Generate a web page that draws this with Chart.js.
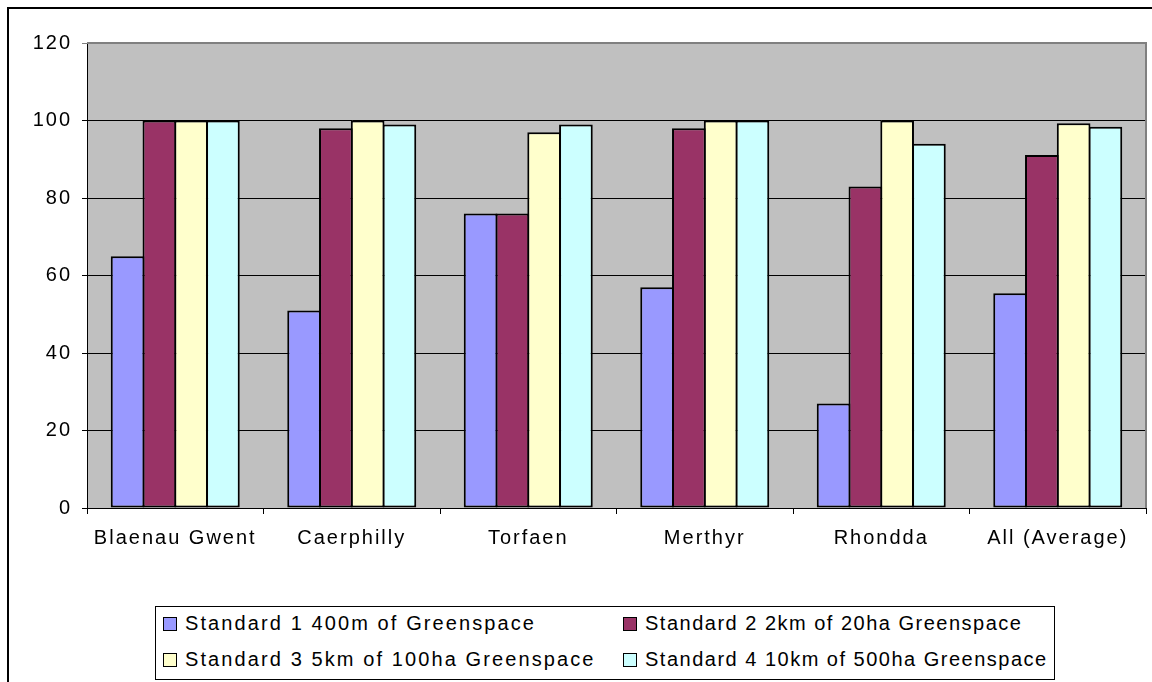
<!DOCTYPE html>
<html>
<head>
<meta charset="utf-8">
<script src="https://cdn.jsdelivr.net/npm/chart.js@4.4.1/dist/chart.umd.min.js"></script>
<style>
  html, body { margin: 0; padding: 0; background: #fff; overflow: hidden; }
  body { width: 1152px; height: 682px; position: relative; font-family: 'Liberation Sans', Arial, sans-serif; }
  #frame { position: absolute; left: 7px; top: 7px; width: 1200px; height: 700px; border-left: 2px solid #000; border-top: 2px solid #000; }
  #chartCanvas { position: absolute; left: 0; top: 0; }
  #legend { position: absolute; left: 155px; top: 606px; width: 898px; height: 72px; border: 1px solid #000; background: #fff; }
  .item { position: absolute; height: 24px; line-height: 24px; font-size: 20px; letter-spacing: 2.1px; color: #000; white-space: nowrap; }
  .item.col2 { letter-spacing: 1.5px; }
  .swatch { display: inline-block; width: 12px; height: 12px; border: 1px solid #000; margin-right: 8px; vertical-align: -1px; }
</style>
</head>
<body>
<div id="frame"></div>
<canvas id="chartCanvas" width="1152" height="600"></canvas>
<div id="legend"></div>
<script>
const categories = ['Blaenau Gwent', 'Caerphilly', 'Torfaen', 'Merthyr', 'Rhondda', 'All (Average)'];
const seriesNames = [
  'Standard 1 400m of Greenspace',
  'Standard 2 2km of 20ha Greenspace',
  'Standard 3 5km of 100ha Greenspace',
  'Standard 4 10km of 500ha Greenspace'
];
const standard1 = [65, 51, 76, 57, 27, 55.4];
const standard2 = [100, 98, 76, 98, 83, 91.1];
const standard3 = [100, 100, 97, 100, 100, 99.3];
const standard4 = [100, 99, 99, 100, 94, 98.4];
const seriesColors = ['#9999FF', '#993366', '#FFFFCC', '#CCFFFF'];
const yMin = 0, yMax = 120, yStep = 20;

const allSeries = [standard1, standard2, standard3, standard4];
const spacing = '2px';

const plotBackground = {
  id: 'plotBackground',
  beforeUpdate: (chart) => { chart.ctx.letterSpacing = spacing; },
  beforeDraw: (chart) => {
    const {ctx, chartArea} = chart;
    ctx.letterSpacing = spacing;
    ctx.save();
    ctx.fillStyle = '#C0C0C0';
    ctx.fillRect(chartArea.left, chartArea.top, chartArea.right - chartArea.left, chartArea.bottom - chartArea.top);
    ctx.restore();
  },
  afterDatasetsDraw: (chart) => {
    const {ctx, chartArea} = chart;
    ctx.save();
    ctx.strokeStyle = '#808080';
    ctx.lineWidth = 2;
    ctx.beginPath();
    ctx.moveTo(chartArea.left, chartArea.top);
    ctx.lineTo(chartArea.right, chartArea.top);
    ctx.lineTo(chartArea.right, chartArea.bottom);
    ctx.stroke();
    ctx.restore();
  }
};

const ctx = document.getElementById('chartCanvas').getContext('2d');
const chart = new Chart(ctx, {
  type: 'bar',
  data: {
    labels: categories,
    datasets: allSeries.map((vals, i) => ({
      label: seriesNames[i],
      data: vals,
      backgroundColor: seriesColors[i],
      borderColor: '#000',
      borderWidth: 2,
      borderSkipped: false,
      barPercentage: 1.06,
      categoryPercentage: 0.72
    }))
  },
  options: {
    responsive: false,
    animation: false,
    devicePixelRatio: 1,
    layout: { padding: { top: 43, right: 6, left: 0, bottom: 0 } },
    plugins: {
      legend: { display: false },
      tooltip: { enabled: false }
    },
    scales: {
      x: {
        grid: { drawOnChartArea: false, color: '#000', tickLength: 6, offset: true },
        border: { color: '#000', width: 1 },
        ticks: { color: '#000', padding: 12, font: { family: 'Liberation Sans', size: 20 } },
        afterFit: s => { s.height = 92; }
      },
      y: {
        min: yMin,
        max: yMax,
        grid: {
          color: c => c.tick && c.tick.value === yMax ? '#808080' : '#000',
          tickLength: 5
        },
        border: { color: '#000', width: 1 },
        ticks: { stepSize: yStep, color: '#000', padding: 10, font: { family: 'Liberation Sans', size: 20 } },
        afterFit: s => { s.width = 87; }
      }
    }
  },
  plugins: [plotBackground]
});

// legend built from the series arrays
const legendEl = document.getElementById('legend');
seriesNames.forEach((name, i) => {
  const item = document.createElement('div');
  item.className = 'item' + (i % 2 ? ' col2' : '');
  item.style.left = (7 + (i % 2) * 460) + 'px';
  item.style.top = (4 + Math.floor(i / 2) * 36) + 'px';
  const sw = document.createElement('span');
  sw.className = 'swatch';
  sw.style.background = seriesColors[i];
  item.appendChild(sw);
  item.appendChild(document.createTextNode(name));
  legendEl.appendChild(item);
});
</script>
</body>
</html>
